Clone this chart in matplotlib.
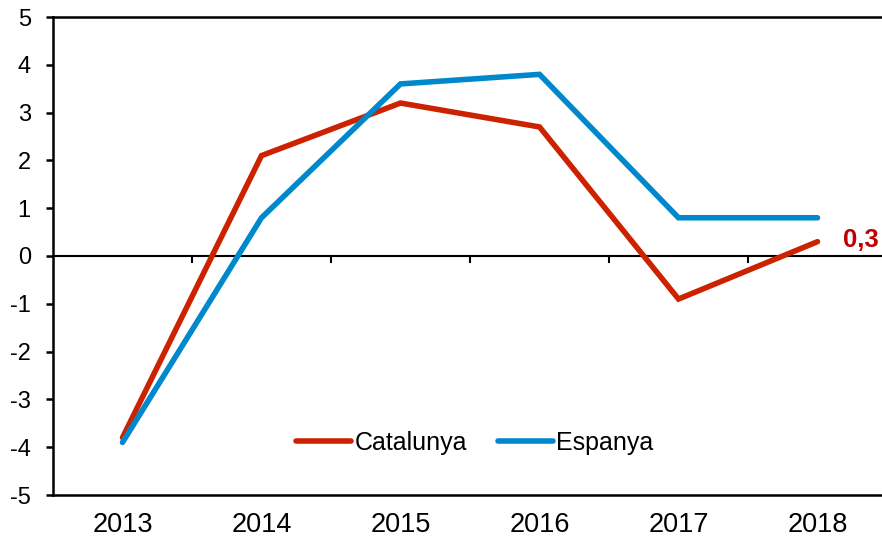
import matplotlib
matplotlib.use("Agg")
import matplotlib.pyplot as plt
from matplotlib.lines import Line2D

plt.rcParams['font.family'] = ['Liberation Sans', 'DejaVu Sans']

years = ["2013", "2014", "2015", "2016", "2017", "2018"]
catalunya = [-3.8, 2.1, 3.2, 2.7, -0.9, 0.3]
espanya = [-3.9, 0.8, 3.6, 3.8, 0.8, 0.8]
last_label = "0,3"

red = "#CC2200"
blue = "#0088CC"

fig = plt.figure(figsize=(8.82, 5.4), dpi=100)
ax = fig.add_axes([53/882, 1-495/540, (887-53)/882, (495-17)/540])

x = list(range(len(years)))
ax.plot(x, catalunya, color=red, lw=4.0, solid_capstyle='round', solid_joinstyle='miter', label="Catalunya", zorder=3)
ax.plot(x, espanya, color=blue, lw=4.0, solid_capstyle='round', solid_joinstyle='miter', label="Espanya", zorder=3)

ax.set_xlim(-0.5, len(years) - 0.5)
ax.set_ylim(-5, 5)
ax.set_yticks(range(-5, 6))
ax.set_yticklabels([str(v) for v in range(-5, 6)], fontsize=17)
ax.set_xticks(x)
ax.set_xticklabels(years, fontsize=19.5)
ax.tick_params(axis='x', length=0, pad=12)
ax.tick_params(axis='y', length=5, width=1.8, direction='out', pad=11)

for s in ['left', 'bottom', 'top']:
    ax.spines[s].set_linewidth(1.8)
ax.spines['right'].set_visible(False)

# zero line with category-boundary ticks
ax.axhline(0, color='black', lw=1.5, zorder=2)
for b in [i + 0.5 for i in range(len(years) - 1)]:
    ax.plot([b, b], [0, -0.13], color='black', lw=1.5, zorder=2, clip_on=False)

ax.text(len(years) - 1 + 0.18, catalunya[-1] + 0.03, last_label, color="#C00000",
        fontsize=18.5, fontweight='bold', va='center', ha='left')

handles = [Line2D([], [], color=red, lw=4.0, solid_capstyle='round'),
           Line2D([], [], color=blue, lw=4.0, solid_capstyle='round')]
ax.legend(handles, ["Catalunya", "Espanya"], loc='center', bbox_to_anchor=((475-53)/834, (495-443)/478),
          ncol=2, frameon=False, fontsize=18, handlelength=2.2, handletextpad=0.15,
          columnspacing=1.2)

fig.savefig("out.png", dpi=100)
